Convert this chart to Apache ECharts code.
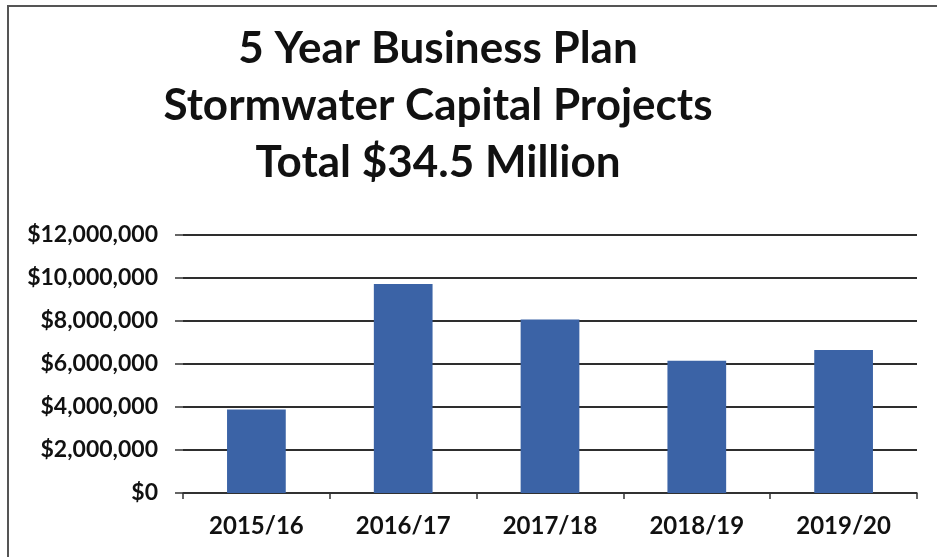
<!DOCTYPE html>
<html>
<head>
<meta charset="utf-8">
<script src="https://cdn.jsdelivr.net/npm/echarts@6/dist/echarts.min.js"></script>
<style>
  html, body { margin: 0; padding: 0; background: #ffffff; }
  #chart { width: 937px; height: 557px; }
</style>
</head>
<body>
<div id="chart"></div>
<script>
// Fiscal years of the plan
const categories = ['2015/16', '2016/17', '2017/18', '2018/19', '2019/20'];
// Capital project spending per year (dollars)
const spending = [3880000, 9720000, 8070000, 6150000, 6650000];
// Title lines
const titleLines = ['5 Year Business Plan', 'Stormwater Capital Projects', 'Total $34.5 Million'];

const fmtDollar = v => '$' + Math.round(v).toLocaleString('en-US');

const chart = echarts.init(document.getElementById('chart'), null, { renderer: 'canvas' });

chart.setOption({
  backgroundColor: '#ffffff',
  animation: false,
  title: {
    text: titleLines.join('\n'),
    left: 433,
    top: 15,
    textAlign: 'center',
    textStyle: {
      fontFamily: 'Lato',
      fontWeight: 'bold',
      fontSize: 44,
      lineHeight: 57,
      color: '#111111'
    }
  },
  graphic: [{
    type: 'polyline',
    silent: true,
    shape: { points: [[8, 557], [8, 6], [937, 6]] },
    style: { stroke: '#555555', lineWidth: 2, fill: null }
  }],
  grid: { left: 183, right: 20, top: 235, bottom: 64 },
  xAxis: {
    type: 'category',
    data: categories,
    axisLine: { show: true, lineStyle: { color: '#333333', width: 1.5 } },
    axisTick: { show: true, length: 6, lineStyle: { color: '#333333', width: 1.5 } },
    axisLabel: {
      margin: 21,
      fontFamily: 'Lato',
      fontSize: 24,
      fontWeight: 'bold',
      color: '#111111'
    }
  },
  yAxis: {
    type: 'value',
    min: 0,
    max: 12000000,
    interval: 2000000,
    axisLine: { show: false },
    axisTick: { show: true, length: 8, lineStyle: { color: '#333333', width: 1.5 } },
    splitLine: { show: true, lineStyle: { color: '#2e2e2e', width: 1.8 } },
    axisLabel: {
      margin: 25,
      fontFamily: 'Lato',
      fontSize: 23,
      fontWeight: 'bold',
      color: '#111111',
      formatter: fmtDollar
    }
  },
  series: [{
    type: 'bar',
    data: spending,
    barWidth: '40%',
    itemStyle: { color: '#3B63A6' }
  }]
});
</script>
</body>
</html>
